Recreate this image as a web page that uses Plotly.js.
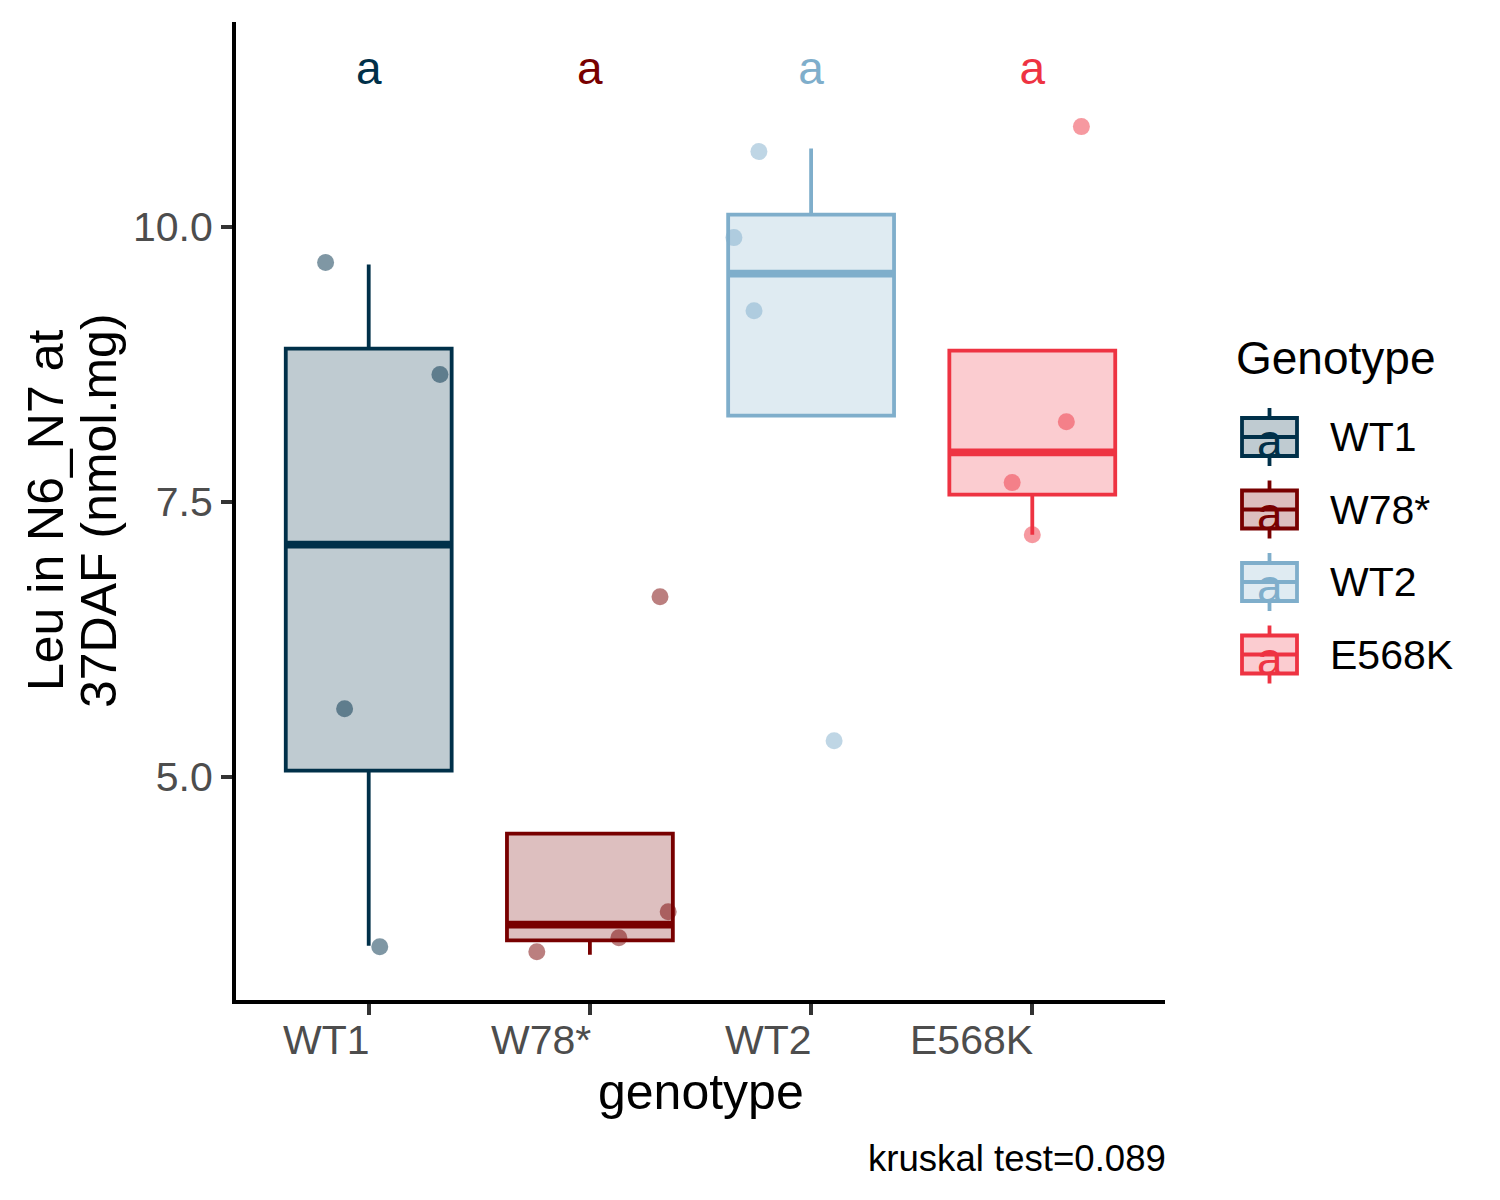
<!DOCTYPE html>
<html>
<head>
<meta charset="utf-8">
<script src="https://cdn.plot.ly/plotly-3.0.1.min.js"></script>
<style>
  html, body { margin: 0; padding: 0; background: #ffffff; }
  #chart { width: 1500px; height: 1200px; }
</style>
</head>
<body>
<div id="chart"></div>
<script>
// data
const genotypes = ["WT1", "W78*", "WT2", "E568K"];
const colors = ["#003049", "#780000", "#7FAECB", "#EE3342"];

// box statistics per genotype
const q1 = [5.055, 3.512, 8.282, 7.564];
const medians = [7.109, 3.655, 9.573, 7.948];
const q3 = [8.891, 4.482, 10.109, 8.873];
const lowerFence = [3.464, 3.382, 8.282, 7.200];
const upperFence = [9.655, 4.482, 10.709, 8.873];

// jittered observations: y values and horizontal jitter offsets
const obsWT1 = [9.673, 8.655, 5.618, 3.455];
const jitWT1 = [-0.195, 0.322, -0.109, 0.050];
const obsW78 = [3.409, 3.536, 3.773, 6.636];
const jitW78 = [-0.240, 0.131, 0.354, 0.317];
const obsWT2 = [10.682, 9.900, 9.236, 5.327];
const jitWT2 = [-0.236, -0.349, -0.258, 0.104];
const obsE568K = [10.909, 8.227, 7.673, 7.200];
const jitE568K = [0.222, 0.154, -0.091, 0.000];

// significance letters
const letters = ["a", "a", "a", "a"];
const letterY = [11.40, 11.40, 11.40, 11.40];

const yTicks = [5.0, 7.5, 10.0];
const caption = "kruskal test=0.089";

const obs = [obsWT1, obsW78, obsWT2, obsE568K];
const jit = [jitWT1, jitW78, jitWT2, jitE568K];

const FONT = "Liberation Sans, Arial, sans-serif";
const BOX_W = 0.75;
const LW = 3.8;

function rgba(hex, a) {
  const n = parseInt(hex.slice(1), 16);
  return "rgba(" + (n >> 16) + "," + ((n >> 8) & 255) + "," + (n & 255) + "," + a + ")";
}

// pixel -> paper helpers (plot area 236..1165 x 22..1000)
const L = 236, R = 1165, T = 22, B = 1000;
const pX = p => (p - L) / (R - L);
const pY = p => (B - p) / (B - T);

const traces = [];

genotypes.forEach((g, i) => {
  traces.push({
    type: "box",
    x: [i],
    q1: [q1[i]],
    median: [medians[i]],
    q3: [q3[i]],
    lowerfence: [lowerFence[i]],
    upperfence: [upperFence[i]],
    width: BOX_W,
    whiskerwidth: 0,
    boxpoints: false,
    fillcolor: rgba(colors[i], 0.25),
    line: { color: colors[i], width: LW },
    name: g,
    showlegend: false,
    hoverinfo: "skip"
  });
});

// thicker median bars, as ggplot fattens them
genotypes.forEach((g, i) => {
  traces.push({
    type: "scatter",
    mode: "lines",
    x: [i - BOX_W / 2, i + BOX_W / 2],
    y: [medians[i], medians[i]],
    line: { color: colors[i], width: LW * 2 },
    showlegend: false,
    hoverinfo: "skip"
  });
});

genotypes.forEach((g, i) => {
  traces.push({
    type: "scatter",
    mode: "markers",
    x: jit[i].map(d => i + d),
    y: obs[i],
    marker: { size: 17, color: colors[i], opacity: 0.5, line: { width: 0 } },
    showlegend: false,
    hoverinfo: "y"
  });
});

traces.push({
  type: "scatter",
  mode: "text",
  x: genotypes.map((g, i) => i),
  y: letterY,
  text: letters,
  textposition: "middle center",
  textfont: { family: FONT, size: 46, color: colors },
  showlegend: false,
  hoverinfo: "skip"
});

const shapes = [];
const annotations = [];

// x tick labels, right aligned on the tick like the original
genotypes.forEach((g, i) => {
  annotations.push({
    x: i, xref: "x", y: pY(1040), yref: "paper", xshift: 3,
    text: g, showarrow: false, xanchor: "right", yanchor: "middle",
    font: { family: FONT, size: 41, color: "#4D4D4D" }
  });
});

// axis titles
annotations.push({
  x: 0.5, xref: "paper", y: pY(1092), yref: "paper",
  text: "genotype", showarrow: false, xanchor: "center", yanchor: "middle",
  font: { family: FONT, size: 50, color: "#000000" }
});
annotations.push({
  x: pX(46), xref: "paper", y: 0.5, yref: "paper", textangle: -90,
  text: "Leu in N6_N7 at", showarrow: false, xanchor: "center", yanchor: "middle",
  font: { family: FONT, size: 50, color: "#000000" }
});
annotations.push({
  x: pX(99), xref: "paper", y: 0.5, yref: "paper", textangle: -90,
  text: "37DAF (nmol.mg)", showarrow: false, xanchor: "center", yanchor: "middle",
  font: { family: FONT, size: 50, color: "#000000" }
});

// caption
annotations.push({
  x: 1, xref: "paper", y: pY(1158), yref: "paper", xshift: 3,
  text: caption, showarrow: false, xanchor: "right", yanchor: "middle",
  font: { family: FONT, size: 36.6, color: "#000000" }
});

// legend, drawn by hand to get the ggplot key glyph
annotations.push({
  x: pX(1234), xref: "paper", y: pY(358), yref: "paper",
  text: "Genotype", showarrow: false, xanchor: "left", yanchor: "middle",
  font: { family: FONT, size: 46, color: "#000000" }
});
genotypes.forEach((g, i) => {
  const cy = 437 + 72.5 * i;
  const kx0 = 1242, kx1 = 1297, kcx = (kx0 + kx1) / 2;
  shapes.push({
    type: "line", xref: "paper", yref: "paper",
    x0: pX(kcx), x1: pX(kcx), y0: pY(cy - 29), y1: pY(cy + 29),
    line: { color: colors[i], width: LW }
  });
  shapes.push({
    type: "rect", xref: "paper", yref: "paper",
    x0: pX(kx0), x1: pX(kx1), y0: pY(cy - 19), y1: pY(cy + 19),
    fillcolor: "#ffffff", line: { width: 0 }
  });
  shapes.push({
    type: "rect", xref: "paper", yref: "paper",
    x0: pX(kx0), x1: pX(kx1), y0: pY(cy - 19), y1: pY(cy + 19),
    fillcolor: rgba(colors[i], 0.25), line: { color: colors[i], width: LW }
  });
  shapes.push({
    type: "line", xref: "paper", yref: "paper",
    x0: pX(kx0), x1: pX(kx1), y0: pY(cy), y1: pY(cy),
    line: { color: colors[i], width: LW }
  });
  annotations.push({
    x: pX(kcx), xref: "paper", y: pY(cy + 4), yref: "paper",
    text: letters[i], showarrow: false, xanchor: "center", yanchor: "middle",
    font: { family: FONT, size: 46, color: colors[i] }
  });
  annotations.push({
    x: pX(1328), xref: "paper", y: pY(cy), yref: "paper",
    text: g, showarrow: false, xanchor: "left", yanchor: "middle",
    font: { family: FONT, size: 41, color: "#000000" }
  });
});

const layout = {
  width: 1500,
  height: 1200,
  paper_bgcolor: "#ffffff",
  plot_bgcolor: "#ffffff",
  font: { family: FONT, size: 41, color: "#000000" },
  margin: { l: L, r: 1500 - R, t: T, b: 1200 - B, pad: 0 },
  showlegend: false,
  xaxis: {
    range: [-0.6, 3.6],
    tickvals: genotypes.map((g, i) => i),
    showticklabels: false,
    ticks: "outside",
    ticklen: 11,
    tickwidth: 4,
    tickcolor: "#333333",
    showline: true,
    linecolor: "#000000",
    linewidth: 4,
    showgrid: false,
    zeroline: false,
    fixedrange: true
  },
  yaxis: {
    range: [2.97, 11.86],
    tickvals: yTicks,
    ticktext: yTicks.map(v => v.toFixed(1)),
    ticks: "outside",
    ticklen: 11,
    tickwidth: 4,
    tickcolor: "#333333",
    tickfont: { family: FONT, size: 41, color: "#4D4D4D" },
    ticklabelstandoff: 0,
    showline: true,
    linecolor: "#000000",
    linewidth: 4,
    showgrid: false,
    zeroline: false,
    fixedrange: true
  },
  shapes: shapes,
  annotations: annotations
};

Plotly.newPlot("chart", traces, layout, { displayModeBar: false, staticPlot: true });
</script>
</body>
</html>
